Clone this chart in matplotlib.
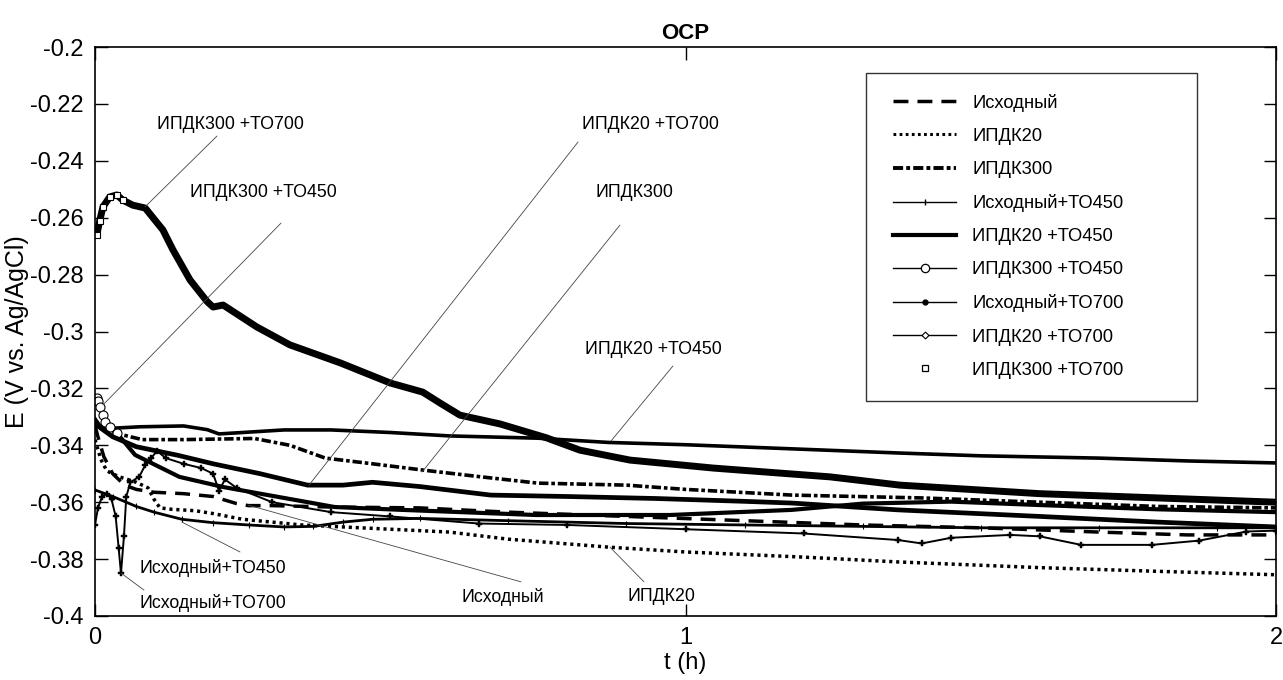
import matplotlib
matplotlib.use('Agg')
import matplotlib.pyplot as plt
from matplotlib.lines import Line2D
from matplotlib.patches import Rectangle

plt.rcParams['font.family'] = ['Liberation Sans', 'DejaVu Sans']

# ---------------- data (t in hours, E in V vs Ag/AgCl) ----------------
labels = ["Исходный", "ИПДК20", "ИПДК300", "Исходный+ТО450", "ИПДК20 +ТО450",
          "ИПДК300 +ТО450", "Исходный+ТО700", "ИПДК20 +ТО700", "ИПДК300 +ТО700"]

t_isx = [0.0, 0.005, 0.015, 0.03, 0.05, 0.07, 0.1, 0.15, 0.2, 0.24, 0.26, 0.3, 0.4, 0.55,
         0.7, 0.9, 1.1, 1.3, 1.5, 1.7, 1.85, 2.0]
v_isx = [-0.333, -0.337, -0.344, -0.350, -0.354, -0.3555, -0.3565, -0.357, -0.358, -0.3605,
         -0.3612, -0.3612, -0.3617, -0.362, -0.3635, -0.365, -0.3665, -0.368, -0.369, -0.3705,
         -0.3715, -0.3715]

t_i20 = [0.0, 0.01, 0.02, 0.04, 0.07, 0.09, 0.1, 0.11, 0.13, 0.17, 0.2, 0.25, 0.35, 0.5, 0.6,
         0.7, 0.87, 1.0, 1.2, 1.36, 1.6, 1.8, 2.0]
v_i20 = [-0.338, -0.345, -0.349, -0.351, -0.353, -0.355, -0.359, -0.362, -0.3625, -0.363,
         -0.364, -0.366, -0.368, -0.3695, -0.3705, -0.373, -0.3758, -0.3775, -0.3793, -0.381,
         -0.383, -0.3843, -0.3855]

t_i300 = [0.0, 0.01, 0.03, 0.08, 0.15, 0.21, 0.27, 0.33, 0.39, 0.47, 0.555, 0.65, 0.75, 0.9,
          1.0, 1.18, 1.4, 1.6, 1.8, 2.0]
v_i300 = [-0.333, -0.334, -0.3355, -0.338, -0.338, -0.3378, -0.3376, -0.340, -0.3445, -0.3465,
          -0.3487, -0.351, -0.3533, -0.354, -0.3555, -0.3575, -0.3585, -0.360, -0.3615, -0.362]

t_isx450 = [0.0, 0.03, 0.07, 0.1, 0.147, 0.2, 0.26, 0.32, 0.37, 0.42, 0.47, 0.55, 0.7, 0.9,
            1.1, 1.3, 1.5, 1.7, 1.9, 2.0]
v_isx450 = [-0.3557, -0.358, -0.3615, -0.3635, -0.366, -0.3672, -0.368, -0.3687, -0.3685,
            -0.367, -0.366, -0.3657, -0.3665, -0.3675, -0.368, -0.3685, -0.369, -0.369, -0.369,
            -0.369]

t_i20450 = [0.0, 0.03, 0.075, 0.15, 0.19, 0.21, 0.25, 0.32, 0.4, 0.5, 0.6, 0.75, 0.87, 1.0,
            1.15, 1.36, 1.5, 1.7, 1.85, 2.0]
v_i20450 = [-0.333, -0.334, -0.3335, -0.3332, -0.3345, -0.336, -0.3355, -0.3346, -0.3346,
            -0.3355, -0.3367, -0.3375, -0.339, -0.3398, -0.341, -0.3427, -0.3437, -0.3445,
            -0.3455, -0.3462]

t_i300450 = [0.003, 0.005, 0.009, 0.013, 0.017, 0.025, 0.037, 0.068, 0.143, 0.218, 0.293,
             0.406, 0.52, 0.747, 0.974, 1.18, 1.3, 1.45, 1.6, 1.8, 2.0]
v_i300450 = [-0.3234, -0.3245, -0.3265, -0.3293, -0.3318, -0.3336, -0.3357, -0.3434, -0.3511,
             -0.3547, -0.3575, -0.3617, -0.3627, -0.3645, -0.3645, -0.3627, -0.3605, -0.3598,
             -0.361, -0.3625, -0.3635]

t_isx700 = [0.0, 0.005, 0.012, 0.02, 0.028, 0.035, 0.04, 0.044, 0.049, 0.053, 0.06, 0.075,
            0.085, 0.095, 0.105, 0.12, 0.15, 0.18, 0.2, 0.21, 0.22, 0.24, 0.3, 0.4, 0.5, 0.65,
            0.8, 1.0, 1.2, 1.36, 1.4, 1.45, 1.55, 1.6, 1.67, 1.79, 1.87, 1.95, 2.0]
v_isx700 = [-0.368, -0.362, -0.358, -0.357, -0.359, -0.365, -0.376, -0.385, -0.372, -0.358,
            -0.353, -0.351, -0.347, -0.3445, -0.342, -0.3445, -0.3465, -0.348, -0.350, -0.356,
            -0.352, -0.355, -0.360, -0.3635, -0.365, -0.3675, -0.368, -0.3695, -0.371, -0.3733,
            -0.3745, -0.3725, -0.3715, -0.372, -0.375, -0.375, -0.3735, -0.3703, -0.370]

t_i20700 = [0.0, 0.01, 0.03, 0.07, 0.14, 0.2, 0.28, 0.36, 0.42, 0.47, 0.55, 0.67, 0.8, 0.95,
            1.1, 1.18, 1.36, 1.6, 1.8, 2.0]
v_i20700 = [-0.331, -0.334, -0.337, -0.3405, -0.3435, -0.3465, -0.350, -0.354, -0.354, -0.353,
            -0.3545, -0.3575, -0.358, -0.3587, -0.3597, -0.3603, -0.3627, -0.365, -0.367,
            -0.3687]

t_i300700 = [0.003, 0.008, 0.0135, 0.025, 0.037, 0.047, 0.064, 0.085, 0.115, 0.132, 0.161,
             0.19, 0.2, 0.217, 0.274, 0.33, 0.415, 0.5, 0.555, 0.584, 0.618, 0.686, 0.765,
             0.821, 0.906, 1.047, 1.245, 1.363, 1.6, 1.8, 2.0]
v_i300700 = [-0.2661, -0.261, -0.2562, -0.2527, -0.252, -0.2538, -0.2556, -0.2566, -0.2643,
             -0.2713, -0.2819, -0.2895, -0.2914, -0.2907, -0.2984, -0.3047, -0.311, -0.3181,
             -0.3213, -0.3251, -0.3294, -0.3325, -0.3374, -0.3417, -0.3452, -0.348, -0.3511,
             -0.354, -0.357, -0.3585, -0.360]

# annotation texts, text positions and leader lines (data coords)
ann_text = ["ИПДК300 +ТО700", "ИПДК300 +ТО450", "ИПДК20 +ТО700", "ИПДК300", "ИПДК20 +ТО450",
            "Исходный+ТО450", "Исходный+ТО700", "Исходный", "ИПДК20"]
ann_pos = [(0.2286, -0.2274), (0.2845, -0.2513), (0.9399, -0.2274), (0.9128, -0.2513),
           (0.945, -0.3065), (0.1998, -0.3831), (0.1998, -0.3954), (0.6909, -0.3933),
           (0.9585, -0.3933)]
ann_from = [(0.2066, -0.2313), (0.315, -0.2619), (0.818, -0.2334), (0.889, -0.2626),
            (0.9788, -0.3121), (0.2456, -0.3775), (0.083, -0.3909), (0.7214, -0.388),
            (0.9297, -0.388)]
ann_to = [(0.0847, -0.2562), (0.0135, -0.3258), (0.3624, -0.354), (0.5538, -0.3494),
          (0.8738, -0.3385), (0.1473, -0.367), (0.044, -0.3849), (0.2591, -0.361),
          (0.8721, -0.3758)]

y_ticks = [-0.4, -0.38, -0.36, -0.34, -0.32, -0.3, -0.28, -0.26, -0.24, -0.22, -0.2]
y_ticklabels = ["-0.4", "-0.38", "-0.36", "-0.34", "-0.32", "-0.3", "-0.28", "-0.26",
                "-0.24", "-0.22", "-0.2"]
x_ticks = [0, 1, 2]
x_ticklabels = ["0", "1", "2"]

# ---------------- figure ----------------
fig = plt.figure(figsize=(12.83, 6.8), dpi=100)
ax = fig.add_axes([95 / 1283, 64 / 680, 1181 / 1283, 569 / 680])

DASH = (0, (4.3, 2.6))
DOT = (0, (0.9, 1.1))
DASHDOT = (0, (2.6, 0.8, 1.0, 0.8))

ax.plot(t_isx, v_isx, color='black', lw=2.5, linestyle=DASH)
ax.plot(t_i20, v_i20, color='black', lw=2.5, linestyle=DOT)
ax.plot(t_i300, v_i300, color='black', lw=2.6, linestyle=DASHDOT)
ax.plot(t_isx450, v_isx450, color='black', lw=2.0, marker='|', ms=4, mew=0.8)
ax.plot(t_i20450, v_i20450, color='black', lw=2.6)
ax.plot(t_i300450, v_i300450, color='black', lw=3.0, marker='o', ms=6.5, mfc='white',
        mec='black', mew=0.8, markevery=list(range(7)))
ax.plot(t_isx700, v_isx700, color='black', lw=1.4, marker='P', ms=4, mew=0.3)
ax.plot(t_i20700, v_i20700, color='black', lw=3.4)
ax.plot(t_i300700, v_i300700, color='black', lw=5.0, marker='s', ms=4.5, mfc='white',
        mec='black', mew=0.8, markevery=list(range(6)))

# annotations
for txt, pos, p0, p1 in zip(ann_text, ann_pos, ann_from, ann_to):
    ax.text(pos[0], pos[1], txt, fontsize=12.8, ha='center', va='center', color='black')
    ax.annotate('', xy=p1, xytext=p0,
                arrowprops=dict(arrowstyle='-', color='#444444', lw=0.6,
                                shrinkA=0, shrinkB=0))

ax.set_xlim(0, 2)
ax.set_ylim(-0.4, -0.2)
ax.set_xticks(x_ticks)
ax.set_xticklabels(x_ticklabels)
ax.set_yticks(y_ticks)
ax.set_yticklabels(y_ticklabels)
ax.tick_params(direction='in', top=True, right=True, length=9, width=1.0,
               labelsize=17, pad=8)
for s in ax.spines.values():
    s.set_linewidth(1.2)

ax.set_xlabel("t (h)", fontsize=17, labelpad=2)
ax.set_ylabel("E (V vs. Ag/AgCl)", fontsize=18, labelpad=1)
ax.set_title("OCP", fontsize=16, fontweight='bold', pad=6)

# legend
handles = [
    Line2D([], [], color='black', lw=2.5, linestyle=DASH),
    Line2D([], [], color='black', lw=2.2, linestyle=DOT),
    Line2D([], [], color='black', lw=2.8, linestyle=DASHDOT),
    Line2D([], [], color='black', lw=1.0, marker='|', ms=5, mew=1.0),
    Line2D([], [], color='black', lw=3.0),
    Line2D([], [], color='black', lw=1.0, marker='o', ms=6, mfc='white', mec='black', mew=0.9),
    Line2D([], [], color='black', lw=1.0, marker='o', ms=3.5, mfc='black', mec='black'),
    Line2D([], [], color='black', lw=1.0, marker='D', ms=3.5, mfc='white', mec='black', mew=0.8),
    Line2D([], [], color='black', lw=0, marker='s', ms=4, mfc='white', mec='black', mew=0.9),
]
ax.add_patch(Rectangle((0.6528, 0.3779), 0.2803, 0.5764, transform=ax.transAxes,
                       facecolor='white', edgecolor='#333333', lw=1.0, zorder=4))
leg = ax.legend(handles, labels, loc='upper left', bbox_to_anchor=(0.6757, 0.918),
                frameon=False, fontsize=13.2, handlelength=3.44, handletextpad=0.87,
                labelspacing=0.88, borderpad=0, borderaxespad=0)
leg.set_zorder(5)

fig.savefig('out.png', dpi=100)
